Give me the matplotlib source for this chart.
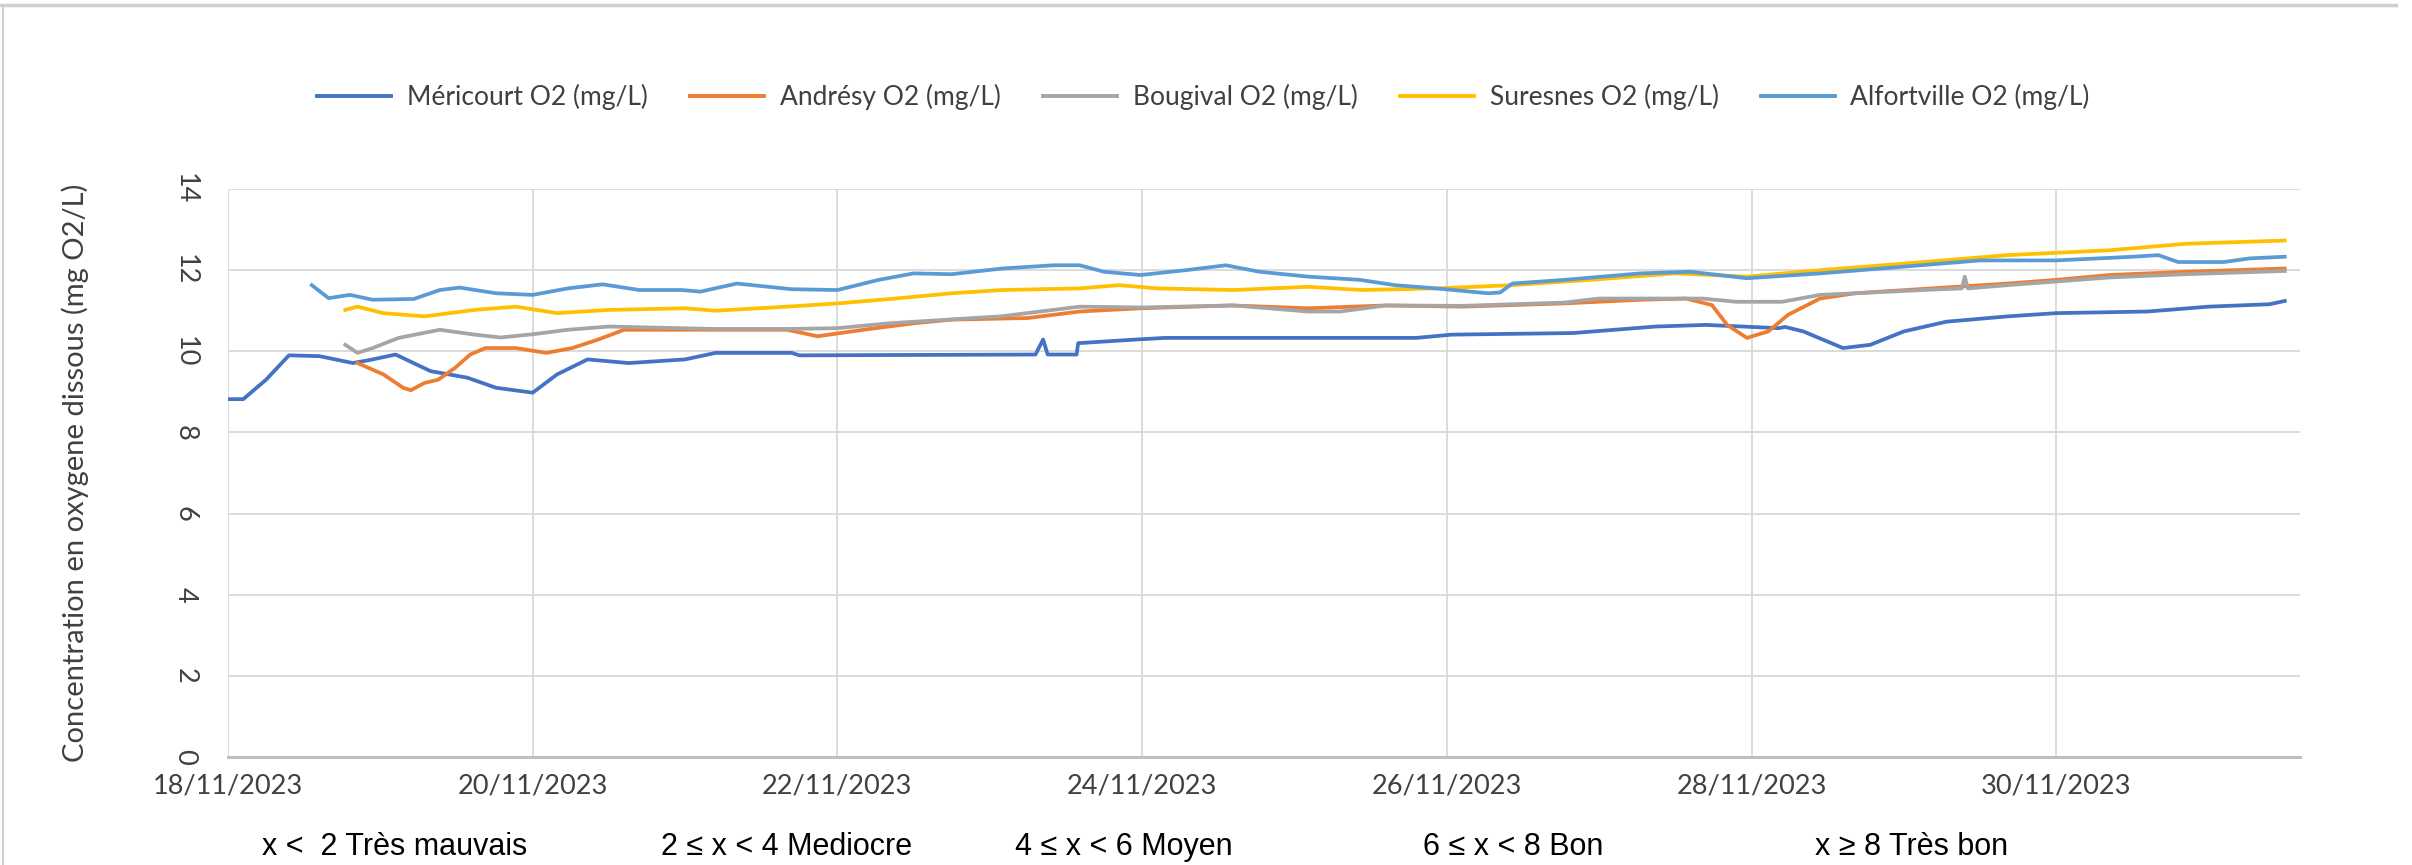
import pandas as pd
import matplotlib
matplotlib.use('Agg')
import matplotlib.pyplot as plt
import matplotlib.dates as mdates
from matplotlib.lines import Line2D

START = pd.Timestamp('2023-11-18')

# days since 18/11/2023 00:00 -> dissolved O2 (mg/L)
mericourt_days = [0.0, 0.1, 0.25, 0.4, 0.6, 0.82, 0.95, 1.1, 1.33, 1.57, 1.76, 2.0, 2.16, 2.36,
                  2.63, 3.0, 3.2, 3.7, 3.75, 5.3, 5.35, 5.38, 5.57, 5.58, 5.96, 6.15, 7.8, 8.03,
                  8.83, 9.1, 9.37, 9.7, 10.18, 10.22, 10.34, 10.6, 10.78, 11.0, 11.28, 11.68,
                  12.0, 12.6, 13.0, 13.4, 13.5]
mericourt_o2 = [8.82, 8.82, 9.3, 9.9, 9.88, 9.71, 9.8, 9.92, 9.51, 9.35, 9.1, 8.98, 9.43, 9.8,
                9.71, 9.8, 9.96, 9.96, 9.9, 9.92, 10.29, 9.92, 9.92, 10.2, 10.29, 10.33, 10.33, 10.41,
                10.45, 10.53, 10.61, 10.65, 10.57, 10.6, 10.49, 10.08, 10.16, 10.49, 10.73, 10.86,
                10.94, 10.98, 11.1, 11.16, 11.24]

andresy_days = [0.85, 1.02, 1.15, 1.2, 1.29, 1.38, 1.49, 1.59, 1.69, 1.89, 2.09, 2.26, 2.43, 2.6,
                3.67, 3.87, 4.17, 4.5, 4.75, 5.25, 5.59, 5.99, 6.59, 7.09, 7.6, 8.1, 8.77, 9.27,
                9.57, 9.74, 9.84, 9.97, 10.11, 10.24, 10.45, 10.68, 11.18, 11.68, 12.0, 12.35,
                12.85, 13.5]
andresy_o2 = [9.71, 9.43, 9.1, 9.04, 9.22, 9.3, 9.59, 9.92, 10.08, 10.08, 9.96, 10.08, 10.29, 10.53,
              10.53, 10.37, 10.53, 10.69, 10.78, 10.82, 10.98, 11.06, 11.13, 11.06, 11.13, 11.1, 11.18, 11.27,
              11.3, 11.14, 10.65, 10.33, 10.49, 10.9, 11.3, 11.43, 11.55, 11.67, 11.76, 11.88,
              11.96, 12.04]

bougival_days = [0.77, 0.85, 0.95, 1.12, 1.39, 1.62, 1.79, 2.0, 2.23, 2.5, 3.2, 3.67, 4.0, 4.34,
                 5.07, 5.59, 6.0, 6.6, 7.09, 7.3, 7.6, 8.1, 8.77, 9.0, 9.68, 9.9, 10.2, 10.45,
                 10.68, 11.18, 11.38, 11.4, 11.42, 11.68, 12.0, 12.35, 12.85, 13.5]
bougival_o2 = [10.16, 9.96, 10.08, 10.33, 10.53, 10.41, 10.34, 10.42, 10.53, 10.61, 10.55, 10.55, 10.57, 10.69,
               10.86, 11.1, 11.08, 11.13, 10.98, 10.98, 11.13, 11.12, 11.2, 11.3, 11.3, 11.22, 11.22, 11.39,
               11.43, 11.52, 11.55, 11.84, 11.55, 11.63, 11.72, 11.82, 11.9, 11.98]

suresnes_days = [0.77, 0.85, 1.02, 1.29, 1.62, 1.89, 2.16, 2.5, 3.0, 3.2, 3.67, 4.0, 4.41, 4.75,
                 5.08, 5.59, 5.85, 6.1, 6.6, 7.09, 7.44, 7.93, 8.43, 8.94, 9.5, 9.97, 10.45, 11.0,
                 11.68, 12.35, 12.85, 13.5]
suresnes_o2 = [11.02, 11.1, 10.94, 10.86, 11.02, 11.1, 10.94, 11.02, 11.06, 11.0, 11.1, 11.18, 11.31, 11.43,
               11.51, 11.55, 11.63, 11.55, 11.51, 11.59, 11.51, 11.55, 11.63, 11.76, 11.92, 11.84, 12.0, 12.16,
               12.37, 12.49, 12.65, 12.73]

alfortville_days = [0.55, 0.66, 0.8, 0.95, 1.22, 1.39, 1.52, 1.76, 2.0, 2.23, 2.46, 2.7, 2.98, 3.1,
                    3.34, 3.7, 4.0, 4.27, 4.5, 4.75, 5.08, 5.42, 5.59, 5.75, 5.99, 6.29, 6.55, 6.77,
                    7.09, 7.43, 7.66, 7.93, 8.27, 8.35, 8.43, 8.77, 9.27, 9.6, 9.97, 10.45, 10.85,
                    11.5, 12.0, 12.5, 12.67, 12.8, 13.1, 13.27, 13.5]
alfortville_o2 = [11.63, 11.31, 11.39, 11.27, 11.29, 11.51, 11.57, 11.43, 11.39, 11.55, 11.65, 11.51, 11.51, 11.47,
                  11.67, 11.53, 11.51, 11.76, 11.92, 11.9, 12.04, 12.12, 12.12, 11.96, 11.88, 12.0, 12.12, 11.96,
                  11.84, 11.76, 11.63, 11.55, 11.43, 11.45, 11.67, 11.76, 11.92, 11.96, 11.8, 11.92, 12.04,
                  12.24, 12.24, 12.33, 12.37, 12.2, 12.2, 12.29, 12.33]

series_names = ['Méricourt O2 (mg/L)', 'Andrésy O2 (mg/L)', 'Bougival O2 (mg/L)',
                'Suresnes O2 (mg/L)', 'Alfortville O2 (mg/L)']
series_colors = ['#4472C4', '#ED7D31', '#A5A5A5', '#FFC000', '#5B9BD5']

quality_labels = ['x <  2 Très mauvais', '2 ≤ x < 4 Mediocre', '4 ≤ x < 6 Moyen',
                  '6 ≤ x < 8 Bon', 'x ≥ 8 Très bon']
quality_x = [262, 661, 1015, 1423, 1815]   # left edge in pixels

y_ticks = [0, 2, 4, 6, 8, 10, 12, 14]


def to_dates(days):
    return START + pd.to_timedelta(days, unit='D')


plt.rcParams['font.family'] = ['Lato', 'DejaVu Sans']

W, H = 2412, 865
fig = plt.figure(figsize=(W/100, H/100), dpi=100)
ax = fig.add_axes([228/W, 1-757/H, (2300-228)/W, (757-189)/H])

data = [(mericourt_days, mericourt_o2), (andresy_days, andresy_o2),
        (bougival_days, bougival_o2), (suresnes_days, suresnes_o2),
        (alfortville_days, alfortville_o2)]
for (d, v), name, c in zip(data, series_names, series_colors):
    ax.plot(to_dates(d), v, color=c, lw=2.7, label=name, solid_joinstyle='round')

ax.set_ylim(0, 14)
ax.set_yticks(y_ticks)
ax.set_xlim(START, START + pd.Timedelta(days=13.6))
ax.xaxis.set_major_locator(mdates.DayLocator(bymonthday=[18, 20, 22, 24, 26, 28, 30]))
ax.xaxis.set_major_formatter(mdates.DateFormatter('%d/%m/%Y'))

for s in ['top', 'right', 'left']:
    ax.spines[s].set_visible(False)
ax.spines['bottom'].set_color('#BFBFBF')
ax.spines['bottom'].set_linewidth(2.2)
ax.grid(True, color='#D9D9D9', lw=1.3)
ax.set_axisbelow(True)
ax.tick_params(length=0, labelcolor='#404040')
ax.tick_params(axis='x', pad=12, labelsize=19.5)
ax.tick_params(axis='y', pad=22, labelsize=19.5)
for lab in ax.get_yticklabels():
    lab.set_rotation(-90)
    lab.set_va('center')

ax.set_ylabel('Concentration en oxygene dissous (mg O2/L)', fontsize=21, color='#404040', labelpad=60)

handles = [Line2D([], [], color=c, lw=2.8) for c in series_colors]
fig.legend(handles, series_names, loc='center', bbox_to_anchor=(0.499, 1-97/H), ncol=5,
           frameon=False, fontsize=19, handlelength=2.8, columnspacing=1.6, handletextpad=0.6,
           labelcolor='#404040')

for x, t in zip(quality_x, quality_labels):
    fig.text(x/W, 1-847/H, t, fontsize=22, ha='left', va='center', color='black',
             family='Liberation Sans')

# outer frame of the original chart area
fig.add_artist(Line2D([0, 2396/W], [1-5/H, 1-5/H], color='#D0D0D0', lw=2.5))
fig.add_artist(Line2D([3/W, 3/W], [0, 1-5/H], color='#D0D0D0', lw=1.5))

fig.savefig('out.png', dpi=100)
